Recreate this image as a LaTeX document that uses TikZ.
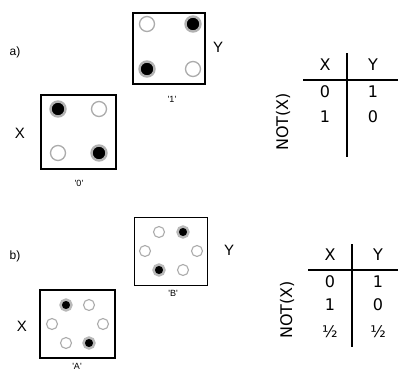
\documentclass[tikz,border=0pt]{standalone}
\usepackage{fontspec}
\setmainfont{Liberation Sans}
\newfontfamily\tablefont{DejaVu Sans}
\begin{document}
\begin{tikzpicture}[x=1pt, y=-1pt,
  panel/.style={draw, fill=white, inner sep=0pt},
  hole/.style={circle, draw=gray!65, fill=white, line width=1.3pt, minimum size=15pt, inner sep=0pt},
  ball/.style={hole, fill=black, draw=gray!60, line width=2.4pt},
  smallhole/.style={hole, minimum size=11pt, line width=1.1pt},
  smallball/.style={smallhole, fill=black, draw=gray!55, line width=2.4pt},
  axis/.style={font=\fontsize{15}{15}\selectfont},
  tag/.style={font=\fontsize{9}{9}\selectfont},
  part/.style={font=\fontsize{12}{12}\selectfont},
  entry/.style={font=\tablefont\fontsize{16}{16}\selectfont},
  rule/.style={line width=2pt}]
  \useasboundingbox (0,0) rectangle (399,372);
  % a) two-dot panels
  \node[part] (parta) at (15,52) {a)};
  \node[panel, line width=1.2pt, minimum width=72pt, minimum height=71pt] (one) at (169,48.5) {};
  \node[hole] (o1) at (147,24) {};
  \node[ball] (o2) at (193,24) {};
  \node[ball] (o3) at (147,69) {};
  \node[hole] (o4) at (193,69) {};
  \node[axis] (ya) at (218,47) {Y};
  \node[tag] (onetag) at (172,99) {\textquotesingle 1\textquotesingle};
  \node[panel, line width=1.8pt, minimum width=75pt, minimum height=74pt] (zero) at (78.5,132) {};
  \node[ball] (z1) at (58,109) {};
  \node[hole] (z2) at (99,109) {};
  \node[hole] (z3) at (58,153) {};
  \node[ball] (z4) at (99,153) {};
  \node[axis] (xa) at (20,133) {X};
  \node[tag] (zerotag) at (79,183) {\textquotesingle 0\textquotesingle};
  % a) truth table
  \coordinate (ha) at (303,80);
  \coordinate (hb) at (398,80);
  \coordinate (va) at (347,53);
  \coordinate (vb) at (347,157);
  \draw[rule] (ha) -- (hb);
  \draw[rule] (va) -- (vb);
  \node[entry] (tax) at (325,65) {X};
  \node[entry] (tay) at (373,65) {Y};
  \node[entry] (ta1) at (325,92) {0};
  \node[entry] (ta2) at (373,92) {1};
  \node[entry] (ta3) at (325,117) {1};
  \node[entry] (ta4) at (373,117) {0};
  \node[entry, rotate=90] (nota) at (283,122) {NOT(X)};
  % b) three-state panels
  \node[part] (partb) at (15,256) {b)};
  \node[panel, line width=0.9pt, minimum width=73pt, minimum height=68pt] (bee) at (170.5,251) {};
  \node[smallhole] (b1) at (159,232) {};
  \node[smallball] (b2) at (183,232) {};
  \node[smallhole] (b3) at (145,251) {};
  \node[smallhole] (b4) at (197,251) {};
  \node[smallball] (b5) at (159,270) {};
  \node[smallhole] (b6) at (183,270) {};
  \node[axis] (yb) at (229,250) {Y};
  \node[tag] (beetag) at (173,293) {\textquotesingle B\textquotesingle};
  \node[panel, line width=1.6pt, minimum width=75pt, minimum height=68pt] (ay) at (77.5,324) {};
  \node[smallball] (a1) at (66,305) {};
  \node[smallhole] (a2) at (89,305) {};
  \node[smallhole] (a3) at (52,324) {};
  \node[smallhole] (a4) at (103,324) {};
  \node[smallhole] (a5) at (66,343) {};
  \node[smallball] (a6) at (89,343) {};
  \node[axis] (xb) at (22,326) {X};
  \node[tag] (aytag) at (77,366) {\textquotesingle A\textquotesingle};
  % b) truth table
  \coordinate (hc) at (308,270);
  \coordinate (hd) at (398,270);
  \coordinate (vc) at (352,244);
  \coordinate (vd) at (352,347);
  \draw[rule] (hc) -- (hd);
  \draw[rule] (vc) -- (vd);
  \node[entry] (tbx) at (330,255) {X};
  \node[entry] (tby) at (378,255) {Y};
  \node[entry] (tb1) at (330,282) {0};
  \node[entry] (tb2) at (378,282) {1};
  \node[entry] (tb3) at (330,305) {1};
  \node[entry] (tb4) at (378,305) {0};
  \node[entry] (tb5) at (330,332) {½};
  \node[entry] (tb6) at (378,332) {½};
  \node[entry, rotate=90] (notb) at (287,310) {NOT(X)};
\end{tikzpicture}
\end{document}
